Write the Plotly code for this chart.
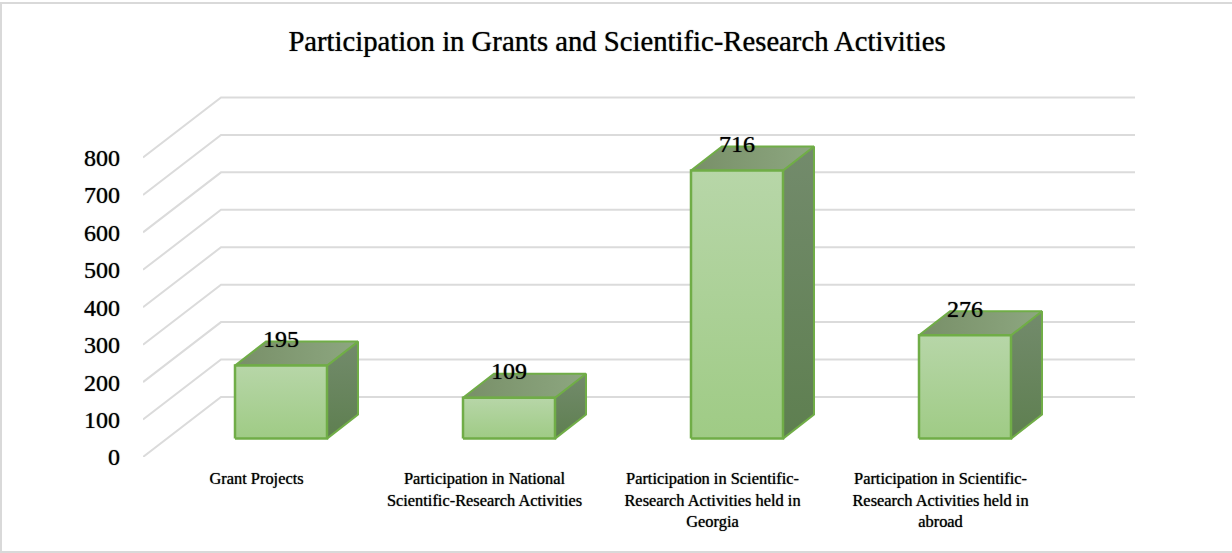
import plotly.graph_objects as go

categories = [
    "Grant Projects",
    "Participation in National<br>Scientific-Research Activities",
    "Participation in Scientific-<br>Research Activities held in<br>Georgia",
    "Participation in Scientific-<br>Research Activities held in<br>abroad",
]
values = [195, 109, 716, 276]
y_ticks = [0, 100, 200, 300, 400, 500, 600, 700, 800]

# projection constants (axis units)
PX_X, PX_Y = 228.0, 0.3744
BAR_W = 92 / PX_X
BAR_DX, BAR_DY = 31 / PX_X, 24 / PX_Y
BASE = 18.4 / PX_Y
WALL_DX, WALL_DY = 78 / PX_X, 60 / PX_Y
X0, X1 = (143 - 281) / PX_X, (1135 - 281) / PX_X
LABEL_UP = 24.5 / PX_Y
FONT = "Liberation Serif"
EDGE = "#70AD47"
SHADOW = "0 0 1px rgba(0,0,0,0.75)"

fig = go.Figure()

gx, gy = [], []
for t in y_ticks:
    gx += [X0, X0 + WALL_DX, X1, None]
    gy += [t, t + WALL_DY, t + WALL_DY, None]
fig.add_trace(go.Scatter(x=gx, y=gy, mode="lines", line=dict(color="#DBDBDB", width=2),
                         hoverinfo="skip", showlegend=False))

for i, v in enumerate(values):
    l, r = i - BAR_W / 2, i + BAR_W / 2
    b, t = BASE, BASE + v
    fig.add_trace(go.Scatter(
        x=[r, r + BAR_DX, r + BAR_DX, r, r], y=[b, b + BAR_DY, t + BAR_DY, t, b],
        mode="lines", fill="toself", line=dict(color=EDGE, width=2),
        fillgradient=dict(type="vertical", colorscale=[[0, "#5E7F50"], [1, "#738B6C"]]),
        hoverinfo="skip", showlegend=False))
    fig.add_trace(go.Scatter(
        x=[l, r, r + BAR_DX, l + BAR_DX, l], y=[t, t, t + BAR_DY, t + BAR_DY, t],
        mode="lines", fill="toself", line=dict(color=EDGE, width=2),
        fillgradient=dict(type="horizontal", colorscale=[[0, "#788F68"], [1, "#8DA780"]]),
        hoverinfo="skip", showlegend=False))
    fig.add_trace(go.Scatter(
        x=[l, r, r, l, l], y=[b, b, t, t, b],
        mode="lines", fill="toself", line=dict(color=EDGE, width=2.5),
        fillgradient=dict(type="vertical", colorscale=[[0, "#9FCB85"], [1, "#B7D6A8"]]),
        hoverinfo="skip", showlegend=False))

fig.add_trace(go.Scatter(
    x=list(range(len(values))), y=[BASE + v + LABEL_UP for v in values],
    text=[str(v) for v in values], mode="text", textposition="middle center",
    textfont=dict(family=FONT, size=24, color="#000000", shadow=SHADOW),
    hoverinfo="skip", showlegend=False))

H = 367.0
W = 992.0
def px(x): return (x - 143) / W
def py(y): return (457 - y) / H

fig.update_layout(
    width=1232, height=553, autosize=False,
    margin=dict(l=143, r=97, t=90, b=96, pad=0),
    paper_bgcolor="white", plot_bgcolor="rgba(0,0,0,0)",
    title=dict(text="Participation in Grants and Scientific-Research Activities",
               x=617 / 1232, xanchor="center", y=1 - 41 / 553, yanchor="middle",
               font=dict(family=FONT, size=28.7, color="#000000", shadow=SHADOW)),
    xaxis=dict(range=[X0, X1], tickmode="array",
               tickvals=[i - 24.5 / PX_X for i in range(len(categories))],
               ticktext=categories, showgrid=False, zeroline=False, showline=False,
               ticks="", ticklabelstandoff=10, tickangle=0,
               tickfont=dict(family=FONT, size=16.4, color="#000000", shadow=SHADOW)),
    yaxis=dict(range=[0, H / PX_Y], tickmode="array", tickvals=y_ticks,
               showgrid=False, zeroline=False, showline=False, ticks="",
               ticklabelstandoff=22,
               tickfont=dict(family=FONT, size=24, color="#000000", shadow=SHADOW)),
    shapes=[dict(type="path", xref="paper", yref="paper", layer="below",
                 path=f"M {px(1232)} {py(3)} L {px(1)} {py(3)} L {px(1)} {py(552)} L {px(1232)} {py(552)}",
                 line=dict(color="#D9D9D9", width=2))],
)

fig.write_html("out.html", post_script="document.body.style.margin='0';",
               config=dict(displayModeBar=False))
